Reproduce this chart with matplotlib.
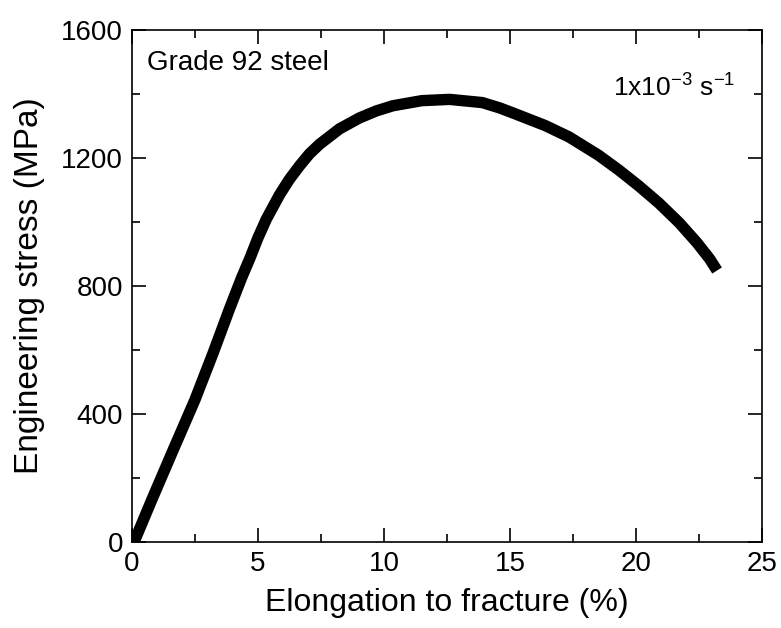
import matplotlib
matplotlib.use('Agg')
import matplotlib.pyplot as plt
from matplotlib.ticker import MultipleLocator

# Values
elongation = [0.0, 0.15, 0.8, 1.65, 2.51, 3.23, 3.89, 4.36, 4.7, 5.01, 5.34,
              5.87, 6.25, 6.66, 7.05, 7.45, 8.24, 9.03, 9.7, 10.35, 11.5,
              12.6, 13.9, 14.6, 15.2, 16.4, 17.33, 18.5, 19.3, 20.1, 20.9,
              21.7, 22.4, 22.9, 23.2]
stress = [0, 10, 132, 288, 444, 590, 730, 825, 888, 950, 1008,
          1085, 1132, 1175, 1212, 1242, 1290, 1324, 1346, 1362, 1378,
          1382, 1372, 1355, 1337, 1300, 1265, 1208, 1162, 1112, 1058,
          997, 935, 885, 848]

x_ticks = [0, 5, 10, 15, 20, 25]
y_ticks = [0, 400, 800, 1200, 1600]

plt.rcParams['font.family'] = ['Liberation Sans', 'DejaVu Sans']

fig = plt.figure(figsize=(7.81, 6.28), dpi=100)
ax = fig.add_axes([0.1684, 0.1365, 0.8079, 0.8165])

ax.plot(elongation, stress, color='black', linewidth=8.2,
        solid_capstyle='butt', solid_joinstyle='round')

ax.set_xlim(0, 25)
ax.set_ylim(0, 1600)
ax.set_xticks(x_ticks)
ax.set_yticks(y_ticks)
ax.xaxis.set_minor_locator(MultipleLocator(2.5))
ax.yaxis.set_minor_locator(MultipleLocator(200))
ax.tick_params(which='both', direction='in', top=True, right=True,
               labelsize=20, width=1.2)
ax.tick_params(which='major', length=10, pad=6)
ax.tick_params(which='minor', length=6)
for sp in ax.spines.values():
    sp.set_linewidth(1.2)

ax.set_xlabel('Elongation to fracture (%)', fontsize=23, labelpad=8)
ax.set_ylabel('Engineering stress (MPa)', fontsize=24, labelpad=12)

ax.text(0.025, 0.96, 'Grade 92 steel', transform=ax.transAxes,
        fontsize=20, va='top', ha='left')
ax.text(0.957, 0.915, r'1x10$^{\mathregular{-3}}$ s$^{\mathregular{-1}}$',
        transform=ax.transAxes, fontsize=19, va='top', ha='right')

fig.savefig('out.png', dpi=100)
